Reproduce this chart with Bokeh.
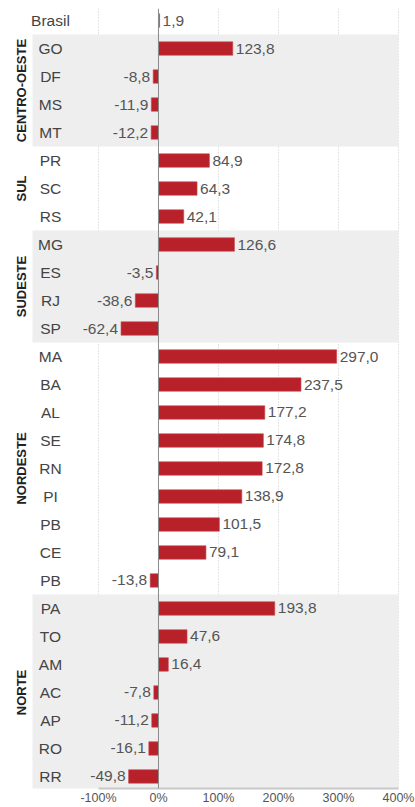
import math
from bokeh.plotting import figure
from bokeh.models import ColumnDataSource, Range1d, FixedTicker, Span
from bokeh.core.properties import value
from bokeh.embed import file_html
from bokeh.resources import INLINE

# ---- data ----
brasil_label = "Brasil"
brasil_value = 1.9

regions = ["CENTRO-OESTE", "SUL", "SUDESTE", "NORDESTE", "NORTE"]
co_states = ["GO", "DF", "MS", "MT"]
co_values = [123.8, -8.8, -11.9, -12.2]
sul_states = ["PR", "SC", "RS"]
sul_values = [84.9, 64.3, 42.1]
se_states = ["MG", "ES", "RJ", "SP"]
se_values = [126.6, -3.5, -38.6, -62.4]
ne_states = ["MA", "BA", "AL", "SE", "RN", "PI", "PB", "CE", "PB"]
ne_values = [297.0, 237.5, 177.2, 174.8, 172.8, 138.9, 101.5, 79.1, -13.8]
no_states = ["PA", "TO", "AM", "AC", "AP", "RO", "RR"]
no_values = [193.8, 47.6, 16.4, -7.8, -11.2, -16.1, -49.8]
x_ticks = [-100, 0, 100, 200, 300, 400]
shaded = ["CENTRO-OESTE", "SUDESTE", "NORTE"]

region_states = [co_states, sul_states, se_states, ne_states, no_states]
region_values = [co_values, sul_values, se_values, ne_values, no_values]

# ---- build rows ----
labels = [brasil_label]
vals = [brasil_value]
band_info = []
idx = 1
for name, sts, vs in zip(regions, region_states, region_values):
    start = idx
    labels += sts
    vals += vs
    idx += len(sts)
    band_info.append((name, start, idx - 1))
n = len(labels)
ys = list(range(n))

BAR_COLOR = "#b8202a"
BAND_LEFT = -210
BAND_RIGHT = 400

p = figure(width=415, height=807, output_backend="svg", toolbar_location=None,
           x_range=Range1d(-263.3, 406.7), y_range=Range1d(n - 1 + 0.43, -0.43),
           min_border_left=0, min_border_top=8, min_border_right=13, min_border_bottom=17)
p.outline_line_color = None
p.background_fill_color = "white"
p.border_fill_color = "white"
p.yaxis.visible = False
p.ygrid.visible = False

# bands
bt, bb, bl, br = [], [], [], []
for name, s, e in band_info:
    if name in shaded:
        bt.append(s - 0.5)
        bb.append(e + 0.5)
        bl.append(BAND_LEFT)
        br.append(BAND_RIGHT)
p.quad(left=bl, right=br, top=bt, bottom=bb, fill_color="#eeeeee", line_color=None)

# grid
p.xgrid.ticker = FixedTicker(ticks=[t for t in x_ticks if t != 0])
p.xgrid.grid_line_color = "#c8c8c8"
p.xgrid.grid_line_dash = "1 2"
p.xgrid.grid_line_width = 1

# bars
src = ColumnDataSource(dict(y=ys, v=vals, lab=labels))
p.hbar(y="y", left=0, right="v", height=0.48, source=src,
       fill_color=BAR_COLOR, line_color="#c9484f", line_width=0.6)

zero = Span(location=0, dimension="height", line_color="#8a8a8a", line_width=1)
p.add_layout(zero)

FONT = value("Liberation Sans")
# state labels
p.text(x=[-180] * n, y=ys, text=labels, text_align="center", text_baseline="middle",
       text_font=FONT, text_font_size="15.5px", text_color="#444444")

# value labels
pos = [i for i in range(n) if vals[i] >= 0]
neg = [i for i in range(n) if vals[i] < 0]
fmt = lambda v: f"{v:.1f}".replace(".", ",")
p.text(x=[vals[i] for i in pos], y=[ys[i] for i in pos], text=[fmt(vals[i]) for i in pos],
       x_offset=3, text_align="left", text_baseline="middle",
       text_font=FONT, text_font_size="15.5px", text_color="#555555")
p.text(x=[vals[i] for i in neg], y=[ys[i] for i in neg], text=[fmt(vals[i]) for i in neg],
       x_offset=-3, text_align="right", text_baseline="middle",
       text_font=FONT, text_font_size="15.5px", text_color="#555555")

# region labels
rx, ry, rt = [], [], []
for name, s, e in band_info:
    rx.append(-228)
    ry.append((s + e) / 2)
    rt.append(name)
p.text(x=rx, y=ry, text=rt, angle=math.pi / 2, text_align="center", text_baseline="middle",
       text_font=FONT, text_font_style="bold",
       text_font_size="13px", text_color="#222222")

# x axis
p.xaxis.ticker = FixedTicker(ticks=x_ticks)
p.xaxis.major_label_overrides = {t: f"{t}%" for t in x_ticks}
p.xaxis.bounds = (min(x_ticks), max(x_ticks))
p.xaxis.axis_line_color = "#c8c8c8"
p.xaxis.axis_line_width = 2
p.xaxis.major_tick_line_color = None
p.xaxis.minor_tick_line_color = None
p.xaxis.major_tick_out = 0
p.xaxis.major_tick_in = 0
p.xaxis.major_label_standoff = 2
p.xaxis.major_label_text_font = "Liberation Sans"
p.xaxis.major_label_text_font_size = "12.5px"
p.xaxis.major_label_text_color = "#555555"

open("out.html", "w").write(file_html(p, INLINE))
